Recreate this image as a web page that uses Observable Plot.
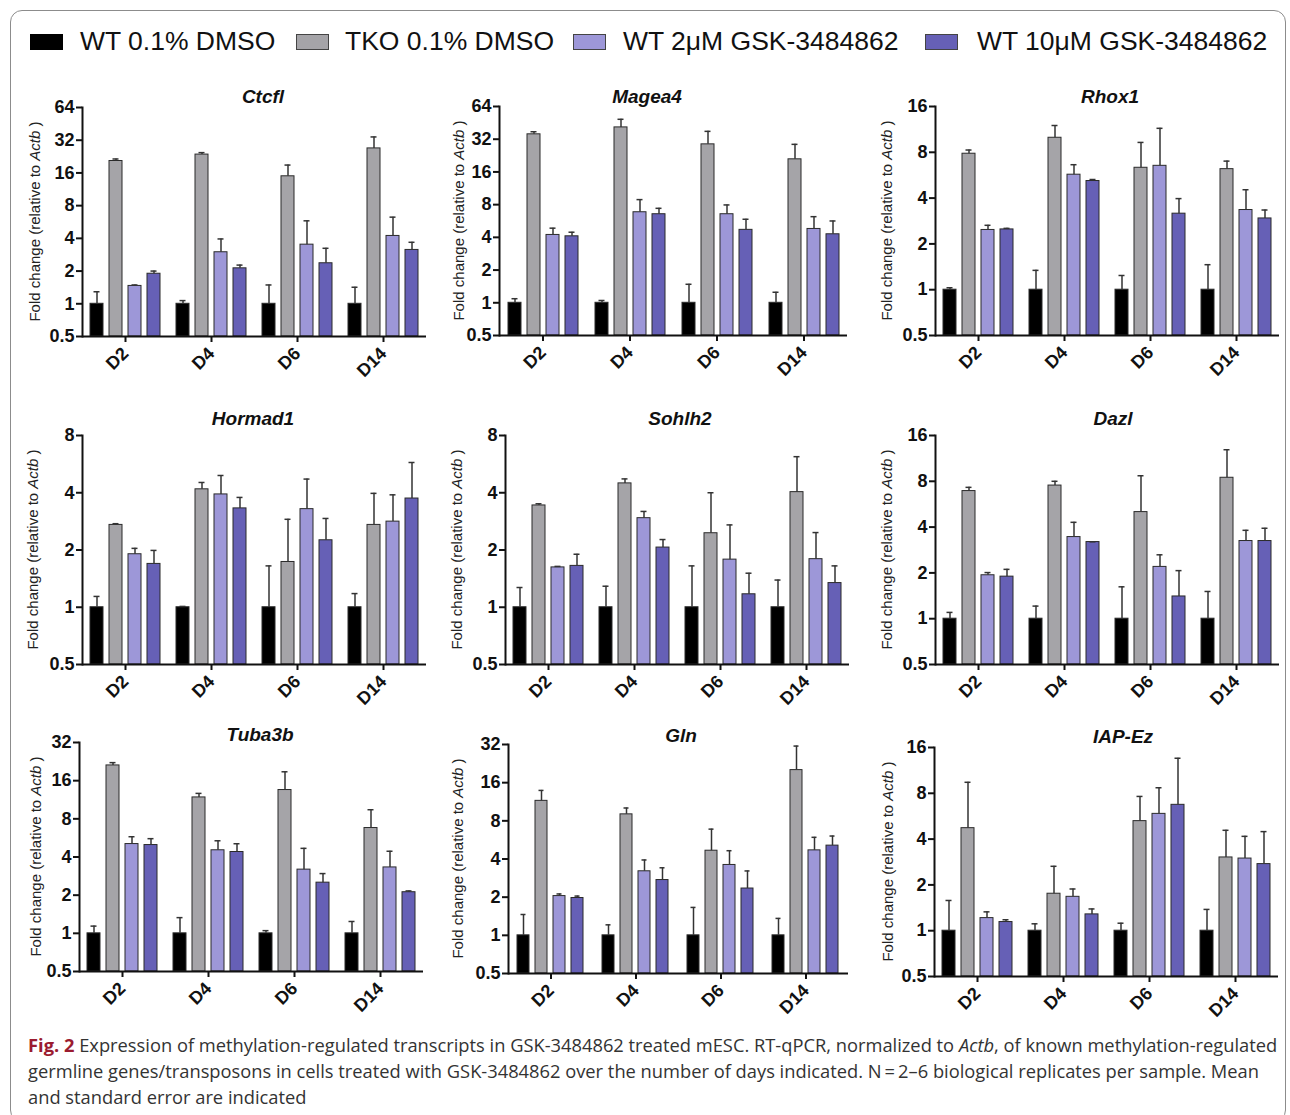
<!DOCTYPE html>
<html><head><meta charset="utf-8">
<script src="https://cdn.jsdelivr.net/npm/d3@7"></script>
<script src="https://cdn.jsdelivr.net/npm/@observablehq/plot@0.6"></script>
<style>
html,body{margin:0;padding:0;background:#fff;}
body{width:1290px;height:1115px;position:relative;overflow:hidden;font-family:"Liberation Sans",Arial,sans-serif;}
#frame{position:absolute;left:10px;top:10px;width:1276px;height:1112px;border:1px solid #8c8c8c;border-radius:12px;box-sizing:border-box;}
#legend{position:absolute;left:0;top:0;font-size:26.5px;color:#111;white-space:nowrap;}
.sw{position:absolute;top:34px;width:33px;height:16px;box-sizing:border-box;border:1px solid #333;}
.lt{position:absolute;top:26px;line-height:30px;}
.panel{position:absolute;}
.ptitle{position:absolute;transform:translate(-50%,-50%);font-weight:bold;font-style:italic;font-size:19px;color:#111;white-space:nowrap;}
.cap{position:absolute;left:28px;white-space:nowrap;font-family:"Open Sans","Noto Sans",sans-serif;color:#333;line-height:26px;}
.cap b{color:#9b1b30;}
</style></head><body>
<div id="frame"></div>
<div id="legend"></div>
<div id="root"></div>
<script>
// ---------- data ----------
const days = ["D2", "D4", "D6", "D14"];
const series = ["WT 0.1% DMSO", "TKO 0.1% DMSO", "WT 2μM GSK-3484862", "WT 10μM GSK-3484862"];
const genes = ["Ctcfl", "Magea4", "Rhox1", "Hormad1", "Sohlh2", "Dazl", "Tuba3b", "Gln", "IAP-Ez"];
const ticks64 = [0.5, 1, 2, 4, 8, 16, 32, 64];
const ticks32 = [0.5, 1, 2, 4, 8, 16, 32];
const ticks16 = [0.5, 1, 2, 4, 8, 16];
const ticks8 = [0.5, 1, 2, 4, 8];

// mean per day (rows: D2, D4, D6, D14; columns: series order) and top of error bar
const ctcflMean = [[1, 20.6, 1.46, 1.89], [1, 23.6, 2.98, 2.12], [1, 14.9, 3.5, 2.36], [1, 26.9, 4.21, 3.13]];
const ctcflUpper = [[1.29, 21.5, 1.49, 2.0], [1.07, 24.6, 3.95, 2.27], [1.49, 18.9, 5.8, 3.24], [1.42, 34.3, 6.27, 3.68]];
const magea4Mean = [[1, 35.5, 4.21, 4.09], [1, 41.1, 6.81, 6.53], [1, 28.7, 6.53, 4.69], [1, 20.9, 4.78, 4.27]];
const magea4Upper = [[1.09, 37.5, 4.86, 4.46], [1.05, 48.8, 8.9, 7.4], [1.48, 37.8, 7.95, 5.87], [1.25, 28.7, 6.2, 5.66]];
const rhox1Mean = [[1, 7.83, 2.47, 2.49], [1, 9.97, 5.7, 5.18], [1, 6.33, 6.52, 3.16], [1, 6.2, 3.34, 2.94]];
const rhox1Upper = [[1.03, 8.28, 2.65, 2.53], [1.34, 12.0, 6.63, 5.3], [1.24, 9.29, 11.5, 3.97], [1.46, 7.0, 4.54, 3.34]];
const hormad1Mean = [[1, 2.71, 1.9, 1.69], [1, 4.17, 3.92, 3.31], [1, 1.73, 3.28, 2.25], [1, 2.71, 2.82, 3.73]];
const hormad1Upper = [[1.14, 2.75, 2.04, 1.99], [1.01, 4.53, 4.93, 3.78], [1.65, 2.9, 4.72, 2.93], [1.18, 3.97, 3.9, 5.77]];
const sohlh2Mean = [[1, 3.43, 1.62, 1.65], [1, 4.48, 2.94, 2.06], [1, 2.45, 1.78, 1.17], [1, 4.03, 1.79, 1.34]];
const sohlh2Upper = [[1.27, 3.5, 1.64, 1.9], [1.29, 4.73, 3.19, 2.27], [1.65, 4.0, 2.71, 1.51], [1.39, 6.19, 2.47, 1.65]];
const dazlMean = [[1, 6.9, 1.93, 1.89], [1, 7.5, 3.44, 3.19], [1, 5.02, 2.19, 1.4], [1, 8.44, 3.24, 3.24]];
const dazlUpper = [[1.1, 7.3, 2.01, 2.11], [1.21, 8.0, 4.3, 3.2], [1.62, 8.7, 2.63, 2.07], [1.51, 12.9, 3.81, 3.93]];
const tuba3bMean = [[1, 21.1, 5.06, 4.97], [1, 11.8, 4.52, 4.38], [1, 13.5, 3.18, 2.51], [1, 6.77, 3.31, 2.11]];
const tuba3bUpper = [[1.14, 22.2, 5.78, 5.58], [1.33, 12.7, 5.37, 5.09], [1.05, 18.8, 4.68, 2.96], [1.24, 9.44, 4.44, 2.16]];
const glnMean = [[1, 11.5, 2.04, 1.97], [1, 9.0, 3.2, 2.73], [1, 4.65, 3.59, 2.34], [1, 20.1, 4.68, 5.1]];
const glnUpper = [[1.46, 13.9, 2.12, 2.04], [1.21, 10.1, 3.93, 3.41], [1.66, 6.88, 4.65, 3.22], [1.36, 31.1, 5.93, 6.07]];
const iapEzMean = [[1, 4.72, 1.21, 1.14], [1, 1.75, 1.67, 1.28], [1, 5.25, 5.86, 6.72], [1, 3.03, 2.98, 2.74]];
const iapEzUpper = [[1.58, 9.45, 1.33, 1.18], [1.11, 2.65, 1.88, 1.39], [1.12, 7.63, 8.7, 13.6], [1.38, 4.57, 4.17, 4.48]];

const captionLines = [
  ["Fig. 2", "  Expression of methylation-regulated transcripts in GSK-3484862 treated mESC. RT-qPCR, normalized to ", "Actb", ", of known methylation-regulated"],
  ["", "germline genes/transposons in cells treated with GSK-3484862 over the number of days indicated. N\u2009=\u20092\u20136 biological replicates per sample. Mean", "", ""],
  ["", "and standard error are indicated", "", ""]
];

// ---------- styles / layout ----------
const colors = ["#000000", "#a5a4a8", "#9d97d8", "#6660b6"];
const legendSwatchX = [30, 296, 573, 925];
const legendTextX = [80, 345, 623, 977];
const panelData = [
  [ctcflMean, ctcflUpper, ticks64], [magea4Mean, magea4Upper, ticks64], [rhox1Mean, rhox1Upper, ticks16],
  [hormad1Mean, hormad1Upper, ticks8], [sohlh2Mean, sohlh2Upper, ticks8], [dazlMean, dazlUpper, ticks16],
  [tuba3bMean, tuba3bUpper, ticks32], [glnMean, glnUpper, ticks32], [iapEzMean, iapEzUpper, ticks16]
];
const plotTop = [107, 106, 106, 435, 435, 435, 742, 744, 747];
const mLeft = [80, 68, 74, 81, 75, 75, 79, 76, 74];
const mRight = [3, 12, 11, 4, 11, 11, 7, 11, 12];
const yLabOff = [44, 38, 46, 47, 47, 47, 42, 47, 45];
const titleX = [263, 647, 1110, 253, 680, 1113, 260, 681, 1123];
const titleY = [97, 97, 97, 419, 419, 419, 735, 736, 737];
const plotH = 229;
const mTop = 30;
const mBottom = 60;

// legend
const legend = document.getElementById("legend");
series.forEach((s, i) => {
  const sw = document.createElement("div"); sw.className = "sw";
  sw.style.left = legendSwatchX[i] + "px";
  sw.style.background = colors[i]; sw.style.borderColor = i === 0 ? "#000" : "#444";
  const tx = document.createElement("div"); tx.className = "lt"; tx.textContent = s;
  tx.style.left = legendTextX[i] + "px";
  legend.appendChild(sw); legend.appendChild(tx);
});

const root = document.getElementById("root");
genes.forEach((g, k) => {
  const [meanArr, upArr, ticks] = panelData[k];
  const rows = [];
  days.forEach((d, i) => series.forEach((s, j) => rows.push({day: d, series: s, mean: meanArr[i][j], upper: upArr[i][j]})));
  const col = k % 3;
  const W = 430;
  const H = mTop + plotH + mBottom;
  const chart = Plot.plot({
    width: W, height: H,
    marginTop: mTop, marginBottom: mBottom, marginLeft: mLeft[k], marginRight: mRight[k],
    style: {fontFamily: "'Liberation Sans', Arial, sans-serif", color: "#111", background: "transparent", overflow: "visible"},
    fx: {domain: days, paddingInner: 0, paddingOuter: 0, label: null},
    x: {domain: series, paddingInner: 0.32, paddingOuter: 0.42, axis: null},
    y: {type: "log", base: 2, domain: [ticks[0], ticks[ticks.length - 1]], axis: null},
    color: {domain: series, range: colors},
    marks: [
      Plot.barY(rows, {fx: "day", x: "series", y1: ticks[0], y2: "mean", fill: "series", stroke: "#2a2a2a", strokeWidth: 1}),
      Plot.ruleX(rows, {fx: "day", x: "series", y1: "mean", y2: "upper", stroke: "#333", strokeWidth: 1.5}),
      Plot.tickY(rows, {fx: "day", x: "series", y: "upper", stroke: "#333", strokeWidth: 1.5, insetLeft: 3.5, insetRight: 3.5}),
      Plot.ruleY([ticks[0]], {stroke: "#111", strokeWidth: 2}),
      Plot.frame({anchor: "left", facetAnchor: "left", stroke: "#111", strokeWidth: 2}),
      Plot.axisY({ticks: ticks, tickFormat: d => String(d), tickSize: 6, tickPadding: 2, fontSize: 18, fontWeight: "bold", strokeWidth: 2, label: null}),
      Plot.axisFx({anchor: "bottom", tickRotate: -45, tickSize: 6, tickPadding: 8, fontSize: 18, fontWeight: "bold", strokeWidth: 2, label: null})
    ]
  });
  // y axis title with italic gene name
  const svg = d3.select(chart);
  const t = svg.append("text")
    .attr("transform", `translate(${mLeft[k] - yLabOff[k]},${mTop + plotH / 2}) rotate(-90)`)
    .attr("text-anchor", "middle").attr("dominant-baseline", "middle")
    .attr("font-size", 15).attr("font-weight", "normal").attr("fill", "#222");
  t.append("tspan").text("Fold change (relative to ");
  t.append("tspan").attr("font-style", "italic").text("Actb");
  t.append("tspan").text(" )");

  const wrap = document.createElement("div");
  wrap.className = "panel";
  wrap.style.left = (col * 430) + "px";
  wrap.style.top = (plotTop[k] - mTop) + "px";
  wrap.appendChild(chart);
  root.appendChild(wrap);

  const tt = document.createElement("div");
  tt.className = "ptitle";
  tt.textContent = g;
  tt.style.left = titleX[k] + "px";
  tt.style.top = titleY[k] + "px";
  root.appendChild(tt);
});

// caption
const capDivs = captionLines.map((parts, i) => {
  const d = document.createElement("div");
  d.className = "cap";
  d.style.top = (1032 + i * 26) + "px";
  if (parts[0]) { const b = document.createElement("b"); b.textContent = parts[0]; d.appendChild(b); }
  d.appendChild(document.createTextNode(parts[1]));
  if (parts[2]) { const e = document.createElement("i"); e.textContent = parts[2]; d.appendChild(e); }
  if (parts[3]) d.appendChild(document.createTextNode(parts[3]));
  d.style.fontSize = "17px";
  document.body.appendChild(d);
  return d;
});
const w0 = capDivs[0].getBoundingClientRect().width;
const fs = 17 * 1250 / w0;
capDivs.forEach(d => d.style.fontSize = fs + "px");
</script>
</body></html>
